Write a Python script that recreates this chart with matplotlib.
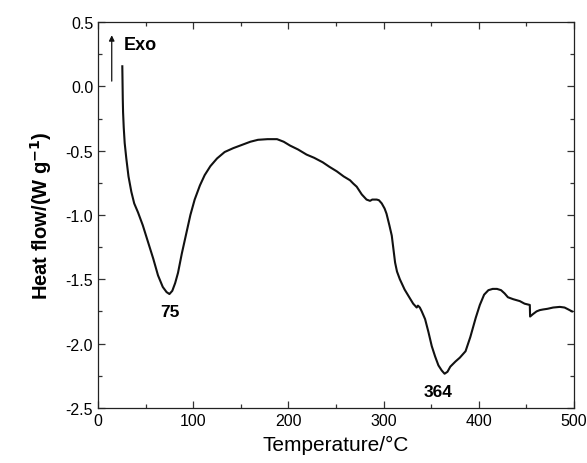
import matplotlib
matplotlib.use("Agg")
import matplotlib.pyplot as plt
from matplotlib.ticker import MultipleLocator

plt.rcParams['font.family'] = ['Liberation Sans', 'DejaVu Sans']

# DSC trace: temperature (°C) and heat flow (W/g)
temperature = [25.5, 26.0, 26.3, 27.0, 28.0, 29.7, 32.0, 35.0, 38.0, 42.0,
               47.0, 52.5, 58.0, 63.0, 68.0, 72.0, 75.0, 78.0, 81.0, 84.0,
               88.0, 92.8, 97.0, 101.5, 107.0, 112.0, 118.0, 125.0, 133.0, 142.0,
               151.0, 160.0, 168.0, 178.0, 188.0, 195.0, 201.7, 210.0, 219.0, 227.0,
               236.0, 243.0, 250.7, 258.0, 264.7, 268.0, 271.7, 277.0, 282.0, 285.7,
               288.0, 292.7, 295.0, 298.0, 301.0, 303.0, 306.0, 308.5, 310.0, 312.0,
               314.0, 317.0, 322.0, 327.7, 331.0, 334.7, 336.0, 338.0, 340.0, 343.5,
               347.0, 350.5, 354.0, 357.5, 361.0, 364.0, 367.0, 370.0, 375.4, 380.0,
               386.0, 391.0, 396.7, 401.0, 405.5, 410.0, 414.5, 419.0, 423.3, 427.0,
               430.5, 436.0, 443.0, 448.0, 453.5, 453.8, 457.0, 460.6, 464.0, 467.5,
               472.0, 478.0, 485.0, 490.0, 494.0, 497.8]
heat_flow = [0.157, -0.10, -0.20, -0.32, -0.44, -0.56, -0.70, -0.82, -0.91, -0.98,
             -1.08, -1.21, -1.34, -1.47, -1.56, -1.60, -1.615, -1.59, -1.53, -1.45,
             -1.30, -1.14, -1.00, -0.88, -0.77, -0.69, -0.62, -0.56, -0.51, -0.48,
             -0.455, -0.43, -0.415, -0.41, -0.41, -0.43, -0.46, -0.49, -0.53, -0.555,
             -0.59, -0.625, -0.66, -0.70, -0.73, -0.755, -0.78, -0.84, -0.88, -0.89,
             -0.88, -0.88, -0.885, -0.91, -0.95, -0.99, -1.08, -1.16, -1.25, -1.37,
             -1.44, -1.50, -1.58, -1.65, -1.69, -1.72, -1.705, -1.72, -1.75, -1.81,
             -1.91, -2.02, -2.10, -2.17, -2.21, -2.235, -2.22, -2.18, -2.14, -2.11,
             -2.06, -1.95, -1.80, -1.70, -1.62, -1.585, -1.575, -1.575, -1.585, -1.61,
             -1.64, -1.655, -1.67, -1.69, -1.70, -1.79, -1.77, -1.75, -1.74, -1.735,
             -1.73, -1.72, -1.715, -1.72, -1.735, -1.75]

# Endothermic peak annotations: (text, x, y)
peak_labels = [("75", 75, -1.75), ("364", 357.5, -2.37)]

fig = plt.figure(figsize=(5.87, 4.64), dpi=100)
ax = fig.add_axes([0.167, 0.119, 0.811, 0.831])

ax.plot(temperature, heat_flow, color='#111111', lw=1.5)

ax.set_xlim(0, 500)
ax.set_ylim(-2.5, 0.5)
ax.xaxis.set_major_locator(MultipleLocator(100))
ax.xaxis.set_minor_locator(MultipleLocator(50))
ax.yaxis.set_major_locator(MultipleLocator(0.5))
ax.yaxis.set_minor_locator(MultipleLocator(0.25))
ax.yaxis.set_major_formatter(matplotlib.ticker.FormatStrFormatter('%.1f'))

ax.tick_params(which='both', direction='in', top=True, right=True,
               labelsize=11.5, width=0.9, color='#333333')
ax.tick_params(which='major', length=5)
ax.tick_params(which='minor', length=3)
for s in ax.spines.values():
    s.set_linewidth(0.9)
    s.set_color('#222222')

ax.set_xlabel('Temperature/°C', fontsize=15, labelpad=5)
ax.set_ylabel('Heat flow/(W g$^{\\mathbf{-1}}$)', fontsize=14.5, fontweight='bold', labelpad=8)

for txt, x, y in peak_labels:
    ax.text(x, y, txt, ha='center', va='center', fontsize=12.5, fontweight='bold')

# Exothermic direction marker
ax.annotate('', xy=(14.4, 0.42), xytext=(14.4, 0.02),
            arrowprops=dict(arrowstyle='-|>', color='#111111', lw=0.9,
                            mutation_scale=8))
ax.text(27, 0.325, 'Exo', ha='left', va='center', fontsize=13, fontweight='bold')

fig.savefig('out.png', dpi=100)
